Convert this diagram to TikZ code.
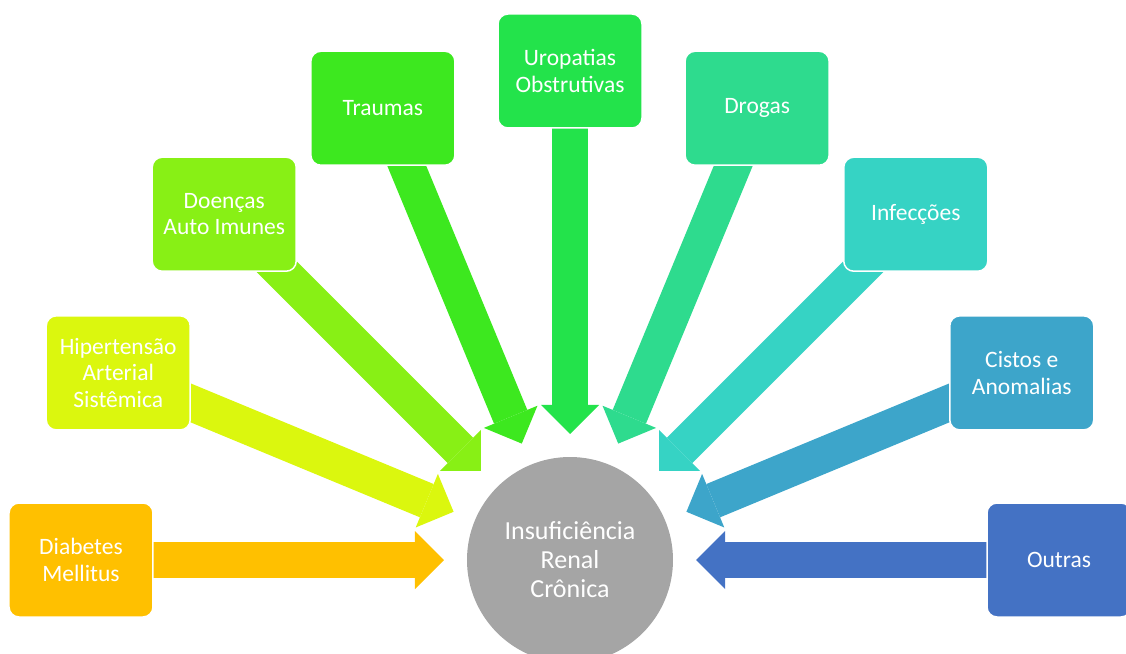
\documentclass[tikz,border=0pt]{standalone}
\usepackage{fontspec}
\setmainfont{Carlito}
\usepackage{xcolor}
\usepackage{tikz}
\usetikzlibrary{positioning,calc,arrows.meta,backgrounds}

\definecolor{corDM}{HTML}{FFC000}
\definecolor{corHAS}{HTML}{DBF70E}
\definecolor{corDAI}{HTML}{88F015}
\definecolor{corTR}{HTML}{3DE81F}
\definecolor{corUO}{HTML}{23E34B}
\definecolor{corDR}{HTML}{2EDB8E}
\definecolor{corINF}{HTML}{36D3C4}
\definecolor{corCA}{HTML}{3DA5CA}
\definecolor{corOUT}{HTML}{4472C4}
\definecolor{corIRC}{HTML}{A5A5A5}

\tikzset{
  causa/.style={rectangle, rounded corners=10pt, fill=#1, draw=white, line width=1.5pt,
    minimum width=144pt, minimum height=114pt, text=white, align=center,
    font=\fontsize{23.5}{26.5}\selectfont},
  seta/.style={draw=#1, line width=36pt,
    -{Triangle[length=29pt,width=58pt,line width=0pt,fill=#1]}}
}

\begin{document}
\begin{tikzpicture}
\useasboundingbox (-570pt,-93pt) rectangle (556pt,560pt);
\node[circle, fill=corIRC, minimum size=206pt, text=white, align=center,
  font=\fontsize{26}{29}\selectfont] (irc) at (0,0) {Insuficiência\\Renal\\Crônica};
\node[causa=corDM] (dm) at (180:489pt) {Diabetes\\Mellitus};
\node[causa=corHAS] (has) at (157.5:489pt) {Hipertensão\\Arterial\\Sistêmica};
\node[causa=corDAI] (dai) at (135:489pt) {Doenças\\Auto Imunes};
\node[causa=corTR] (tr) at (112.5:489pt) {Traumas};
\node[causa=corUO] (uo) at (90:489pt) {Uropatias\\Obstrutivas};
\node[causa=corDR] (dr) at (67.5:489pt) {Drogas};
\node[causa=corINF] (inf) at (45:489pt) {Infecções};
\node[causa=corCA] (ca) at (22.5:489pt) {Cistos e\\Anomalias};
\node[causa=corOUT] (out) at (0:489pt) {Outras};
% setas por baixo das caixas
\begin{scope}[on background layer]
\draw[seta=corDM] (dm.center) -- ($(irc.center)!126pt!(dm.center)$);
\draw[seta=corHAS] (has.center) -- ($(irc.center)!126pt!(has.center)$);
\draw[seta=corDAI] (dai.center) -- ($(irc.center)!126pt!(dai.center)$);
\draw[seta=corTR] (tr.center) -- ($(irc.center)!126pt!(tr.center)$);
\draw[seta=corUO] (uo.center) -- ($(irc.center)!126pt!(uo.center)$);
\draw[seta=corDR] (dr.center) -- ($(irc.center)!126pt!(dr.center)$);
\draw[seta=corINF] (inf.center) -- ($(irc.center)!126pt!(inf.center)$);
\draw[seta=corCA] (ca.center) -- ($(irc.center)!126pt!(ca.center)$);
\draw[seta=corOUT] (out.center) -- ($(irc.center)!126pt!(out.center)$);
\end{scope}
\end{tikzpicture}
\end{document}
